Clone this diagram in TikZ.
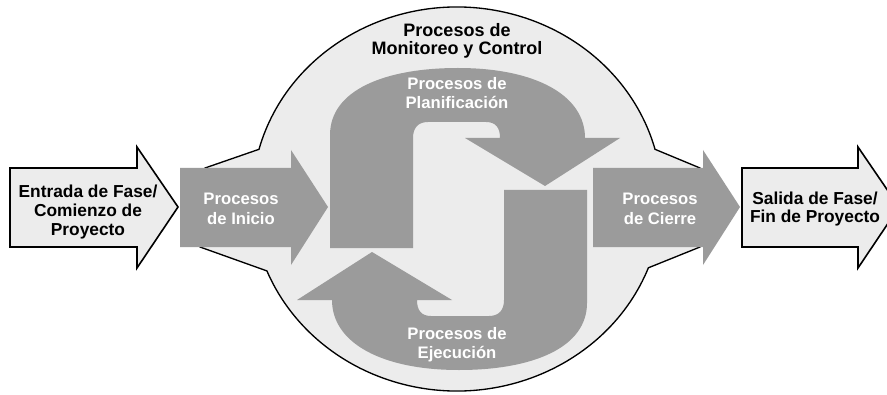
\documentclass[tikz,border=0pt]{standalone}
\usepackage{fontspec}
\setmainfont{Liberation Sans}
\usepackage{tikz}
\definecolor{procgray}{RGB}{155,155,155}
\definecolor{backgray}{RGB}{236,236,236}

\begin{document}
\begin{tikzpicture}[x=0.75pt,y=-0.75pt,
  blacktxt/.style={align=center,font=\bfseries\fontsize{13}{14}\selectfont,text=black},
  whitetxt/.style={align=center,font=\bfseries\fontsize{12.5}{14.5}\selectfont,text=white},
  procshape/.style={fill=procgray},
  edgearrow/.style={fill=backgray,draw=black,line width=1.2pt,line join=miter}]
\clip (0,0) rectangle (887,395);
\fill[white] (0,0) rectangle (887,395);

\filldraw[fill=backgray,draw=black,line width=1pt] (205,168) -- ([shift={(457,199)}]195:205 and 192) arc[start angle=195,end angle=345,x radius=205,y radius=192] -- (700,168) -- (700,247) -- ([shift={(457,199)}]21:205 and 192) arc[start angle=21,end angle=158,x radius=205,y radius=192] -- (200,247) -- cycle;

\fill[procshape] (180,168) -- (291,168) -- (291,150) -- (328,207) -- (291,265) -- (291,247) -- (180,247) -- cycle;
\fill[procshape] (593,168) -- (703,168) -- (703,150) -- (740,207) -- (703,265) -- (703,247) -- (593,247) -- cycle;

\fill[procshape] (330,248) -- (330,135) .. controls (330,90) and (385,68) .. (458,68) .. controls (535,68) and (585,95) .. (585,138) -- (620,138) -- (545,186) -- (465,138) -- (500,138) .. controls (500,128) and (496,122) .. (486,122) -- (428,122) .. controls (418,122) and (413,128) .. (413,138) -- (413,248) -- cycle;
% the execution arrow is the planning arrow turned half round
\begin{scope}[rotate around={180:(458.5,219)}]
\fill[procshape] (330,248) -- (330,135) .. controls (330,90) and (385,68) .. (458,68) .. controls (535,68) and (585,95) .. (585,138) -- (620,138) -- (545,186) -- (465,138) -- (500,138) .. controls (500,128) and (496,122) .. (486,122) -- (428,122) .. controls (418,122) and (413,128) .. (413,138) -- (413,248) -- cycle;
\end{scope}

\draw[edgearrow] (10,168) -- (137,168) -- (137,147) -- (178,207) -- (137,268) -- (137,247) -- (10,247) -- cycle;
\draw[edgearrow] (742,168) -- (858,168) -- (858,147) -- (899,207) -- (858,268) -- (858,247) -- (742,247) -- cycle;

\node[blacktxt] (entrada) at (88,212) {Entrada de Fase/\\Comienzo de\\Proyecto};
\node[whitetxt] (inicio) at (241,209) {Procesos\\de Inicio};
\node[blacktxt,font=\bfseries\fontsize{13.5}{14}\selectfont] (monitoreo) at (457,41) {Procesos de\\Monitoreo y Control};
\node[whitetxt] (planif) at (457,93) {Procesos de\\Planificación};
\node[whitetxt] (ejec) at (457,345) {Procesos de\\Ejecución};
\node[whitetxt] (cierre) at (660,209) {Procesos\\de Cierre};
\node[blacktxt] (salida) at (815,209) {Salida de Fase/\\Fin de Proyecto};
\end{tikzpicture}
\end{document}
